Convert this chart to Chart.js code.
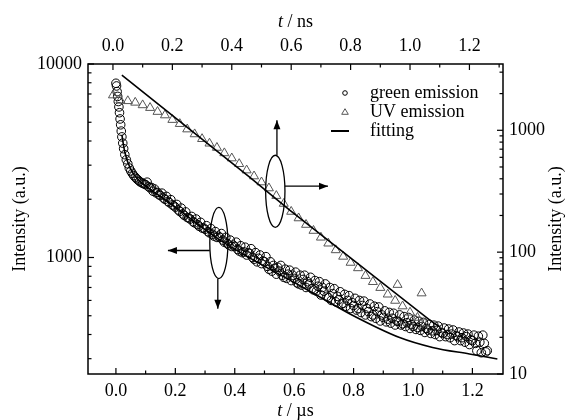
<!DOCTYPE html>
<html><head><meta charset="utf-8">
<script src="https://cdn.jsdelivr.net/npm/chart.js@4.4.0/dist/chart.umd.min.js"></script>
<style>html,body{margin:0;padding:0;background:#fff;overflow:hidden}</style>
</head><body>
<canvas id="c" width="571" height="420"></canvas>
<script>
// ---- data ----
// green emission: time in microseconds (bottom axis), intensity on left axis
const greenTime = [
0,0.002,0.004,0.006,0.008,0.01,0.012,0.014,0.016,0.018,0.02,0.023,0.026,0.03,0.035,0.04,0.045,0.05,0.055,0.06,0.065,0.07,0.075,0.08,0.085,0.09,0.095,
0.1,0.105,0.11,0.115,0.12,0.125,0.13,0.135,0.14,0.145,
0.15,0.155,0.16,0.165,0.17,0.175,0.18,0.185,0.19,0.195,
0.2,0.205,0.21,0.215,0.22,0.225,0.23,0.235,0.24,0.245,
0.25,0.255,0.26,0.265,0.27,0.275,0.28,0.285,0.29,0.295,
0.3,0.305,0.31,0.315,0.32,0.325,0.33,0.335,0.34,0.345,
0.35,0.355,0.36,0.365,0.37,0.375,0.38,0.385,0.39,0.395,
0.4,0.405,0.41,0.415,0.42,0.425,0.43,0.435,0.44,0.445,
0.45,0.455,0.46,0.465,0.47,0.475,0.48,0.485,0.49,0.495,
0.5,0.505,0.51,0.515,0.52,0.525,0.53,0.535,0.54,0.545,
0.55,0.555,0.56,0.565,0.57,0.575,0.58,0.585,0.59,0.595,
0.6,0.605,0.61,0.615,0.62,0.625,0.63,0.635,0.64,0.645,
0.65,0.655,0.66,0.665,0.67,0.675,0.68,0.685,0.69,0.695,
0.7,0.705,0.71,0.715,0.72,0.725,0.73,0.735,0.74,0.745,
0.75,0.755,0.76,0.765,0.77,0.775,0.78,0.785,0.79,0.795,
0.8,0.805,0.81,0.815,0.82,0.825,0.83,0.835,0.84,0.845,
0.85,0.855,0.86,0.865,0.87,0.875,0.88,0.885,0.89,0.895,
0.9,0.905,0.91,0.915,0.92,0.925,0.93,0.935,0.94,0.945,
0.95,0.955,0.96,0.965,0.97,0.975,0.98,0.985,0.99,0.995,
1.0,1.005,1.01,1.015,1.02,1.025,1.03,1.035,1.04,1.045,
1.05,1.055,1.06,1.065,1.07,1.075,1.08,1.085,1.09,1.095,
1.1,1.105,1.11,1.115,1.12,1.125,1.13,1.135,1.14,1.145,
1.15,1.155,1.16,1.165,1.17,1.175,1.18,1.185,1.19,1.195,
1.2,1.205,1.21,1.215,1.22,1.225,1.23,1.235,1.24,1.245,
1.25];
const greenIntensity = [
7950,7700,7200,6800,6400,6000,5600,5200,4850,4500,4200,3900,3650,3400,3200,3050,2900,2800,2720,2650,2600,2550,2510,2470,2440,2420,2400,
2380,2450,2320,2290,2300,2200,2260,2160,2170,2110,
2090,2150,2030,2000,2070,1950,1920,1990,1870,1850,
1820,1880,1760,1730,1800,1680,1650,1720,1610,1600,
1580,1630,1530,1510,1580,1480,1450,1520,1420,1420,
1400,1460,1360,1340,1410,1320,1290,1360,1270,1290,
1270,1330,1230,1200,1270,1180,1160,1230,1140,1160,
1140,1200,1100,1080,1150,1060,1070,1130,1030,1060,
1050,1110,1000,980,1060,950,990,1030,930,960,
950,1010,900,870,950,850,910,880,820,890,
850,910,810,790,870,780,820,860,760,810,
780,840,740,730,810,720,770,810,700,750,
730,790,690,680,760,670,710,750,640,700,
670,730,630,620,700,600,650,690,590,630,
605,665,575,580,645,560,600,635,545,585,
565,615,535,545,600,520,565,595,505,545,
525,575,495,505,560,485,525,555,470,505,
490,530,465,480,520,458,485,515,448,470,
467,505,448,455,495,440,460,490,430,450,
440,475,425,435,468,420,440,462,410,430,
422,452,405,418,447,400,420,442,390,410,
405,432,390,400,427,385,402,422,372,395,
390,412,372,385,407,365,390,402,355,375,
372,397,360,330,392,365,322,397,360,325,
330];
// UV emission: time in nanoseconds (top axis), intensity on right axis
const uvTime = [0,0.025,0.05,0.075,0.1,0.125,0.15,0.175,0.2,0.225,0.25,0.275,0.3,0.325,0.35,0.375,0.4,0.425,0.45,0.475,0.5,0.525,0.55,0.575,0.6,0.625,0.65,0.675,0.7,0.725,0.75,0.775,0.8,0.825,0.85,0.875,0.9,0.925,0.95,0.958,0.975,1.0,1.025,1.039,1.05];
const uvIntensity = [1940,1760,1740,1690,1610,1530,1420,1330,1220,1130,1020,930,850,780,720,650,590,530,470,420,375,335,290,250,215,190,168,150,132,118,104,92,82,74,64,57,51,45,40,54,36,32,29,46,26];
// fitting curves
const greenFitTime = [0.02,0.03,0.05,0.08,0.12,0.2,0.33,0.453,0.62,0.788,0.955,1.066,1.19,1.284];
const greenFitIntensity = [4300,3500,2850,2480,2230,1820,1290,990,715,511,386,343,317,299];
const uvFitTime = [0.03,0.46,0.595,1.072,1.1];
const uvFitIntensity = [2830,412,221,27,24.4];
// tick values
const usMajor = [0,0.2,0.4,0.6,0.8,1.0,1.2];
const usMinor = [0.1,0.3,0.5,0.7,0.9,1.1];
const nsMajor = [0,0.2,0.4,0.6,0.8,1.0,1.2];
const nsMinor = [0.1,0.3,0.5,0.7,0.9,1.1,1.3];
const leftMajor = [1000,10000];
const leftMinor = [300,400,500,600,700,800,900,2000,3000,4000,5000,6000,7000,8000,9000];
const rightMajor = [10,100,1000];
const rightMinor = [20,30,40,50,60,70,80,90,200,300,400,500,600,700,800,900,2000,3000];
// legend labels and marker annotations (data coordinates)
const legendLabels = ['green emission','UV emission','fitting'];
const uvMarker = {x0:0.514,x1:0.579,yTop:624,yBot:160,upX:0.552,upTo:1208,rightY:348,rightTo:0.724};
const greenMarker = {x0:0.316,x1:0.377,yTop:1816,yBot:778,leftY:1087,leftTo:0.175,downX:0.343,downTo:544};

const FONT = '18px "Liberation Serif"';
const fontObj = {family:'Liberation Serif', size:18};

function pts(xs, ys){ return xs.map((x,i)=>({x:x,y:ys[i]})); }

function arrow(ctx,x1,y1,x2,y2){
  ctx.beginPath(); ctx.moveTo(x1,y1); ctx.lineTo(x2,y2); ctx.stroke();
  const a=Math.atan2(y2-y1,x2-x1), L=9, W=3.5;
  ctx.beginPath();
  ctx.moveTo(x2,y2);
  ctx.lineTo(x2-L*Math.cos(a)+W*Math.sin(a), y2-L*Math.sin(a)-W*Math.cos(a));
  ctx.lineTo(x2-L*Math.cos(a)-W*Math.sin(a), y2-L*Math.sin(a)+W*Math.cos(a));
  ctx.closePath(); ctx.fill();
}
function mixed(ctx, parts, cx, cy){
  let total=0; const w=[];
  parts.forEach(p=>{ctx.font=(p[1]?'italic ':'')+FONT; const m=ctx.measureText(p[0]).width; w.push(m); total+=m;});
  let x=cx-total/2;
  ctx.textAlign='left'; ctx.textBaseline='middle';
  parts.forEach((p,i)=>{ctx.font=(p[1]?'italic ':'')+FONT; ctx.fillText(p[0],x,cy); x+=w[i];});
}

const decor = {
  id:'decor',
  afterDatasetsDraw(chart){
    const ctx=chart.ctx, a=chart.chartArea, s=chart.scales;
    ctx.save();
    ctx.strokeStyle='#000'; ctx.fillStyle='#000';
    // frame
    ctx.lineWidth=1.5;
    ctx.strokeRect(a.left,a.top,a.right-a.left,a.bottom-a.top);
    // inward ticks
    ctx.lineWidth=1.2;
    const tk=(scale,vals,len,side)=>{
      vals.forEach(v=>{
        if(v<scale.min||v>scale.max) return;
        const p=scale.getPixelForValue(v);
        ctx.beginPath();
        if(side==='b'){ctx.moveTo(p,a.bottom);ctx.lineTo(p,a.bottom-len);}
        if(side==='t'){ctx.moveTo(p,a.top);ctx.lineTo(p,a.top+len);}
        if(side==='l'){ctx.moveTo(a.left,p);ctx.lineTo(a.left+len,p);}
        if(side==='r'){ctx.moveTo(a.right,p);ctx.lineTo(a.right-len,p);}
        ctx.stroke();
      });
    };
    tk(s.xb,usMajor,6,'b'); tk(s.xb,usMinor,3.5,'b');
    tk(s.xt,nsMajor,6,'t'); tk(s.xt,nsMinor,3.5,'t');
    tk(s.yl,leftMajor,6,'l'); tk(s.yl,leftMinor,3.5,'l');
    tk(s.yr,rightMajor,6,'r'); tk(s.yr,rightMinor,3.5,'r');
    // titles
    const cx=(a.left+a.right)/2, cy=(a.top+a.bottom)/2;
    mixed(ctx,[['t',true],[' / \u00b5s',false]],cx,chart.height-9);
    mixed(ctx,[['t',true],[' / ns',false]],cx,22);
    ctx.save(); ctx.translate(20,cy); ctx.rotate(-Math.PI/2); mixed(ctx,[['Intensity (a.u.)',false]],0,0); ctx.restore();
    ctx.save(); ctx.translate(556,cy); ctx.rotate(-Math.PI/2); mixed(ctx,[['Intensity (a.u.)',false]],0,0); ctx.restore();
    // legend
    const lx=a.right-158, tx=a.right-133, rows=[a.top+29,a.top+48,a.top+67];
    ctx.lineWidth=1;
    ctx.beginPath(); ctx.arc(lx,rows[0],2.3,0,Math.PI*2); ctx.stroke();
    ctx.strokeStyle='#555';
    ctx.beginPath(); ctx.moveTo(lx,rows[1]-3.3); ctx.lineTo(lx+3.3,rows[1]+2.3); ctx.lineTo(lx-3.3,rows[1]+2.3); ctx.closePath(); ctx.stroke();
    ctx.strokeStyle='#000'; ctx.lineWidth=2;
    ctx.beginPath(); ctx.moveTo(lx-14,rows[2]); ctx.lineTo(lx+4,rows[2]); ctx.stroke();
    ctx.font=FONT; ctx.textAlign='left'; ctx.textBaseline='middle';
    legendLabels.forEach((t,i)=>ctx.fillText(t,tx,rows[i]));
    // markers: ellipses with arrows
    ctx.lineWidth=1.3; ctx.strokeStyle='#000';
    const ell=(xs,ys,m)=>{
      const x0=xs.getPixelForValue(m.x0), x1=xs.getPixelForValue(m.x1);
      const y0=ys.getPixelForValue(m.yTop), y1=ys.getPixelForValue(m.yBot);
      ctx.beginPath(); ctx.ellipse((x0+x1)/2,(y0+y1)/2,(x1-x0)/2,(y1-y0)/2,0,0,Math.PI*2); ctx.stroke();
      return {x0,x1,y0,y1};
    };
    const u=ell(s.xt,s.yr,uvMarker);
    arrow(ctx,s.xt.getPixelForValue(uvMarker.upX),u.y0,s.xt.getPixelForValue(uvMarker.upX),s.yr.getPixelForValue(uvMarker.upTo));
    arrow(ctx,u.x1,s.yr.getPixelForValue(uvMarker.rightY),s.xt.getPixelForValue(uvMarker.rightTo),s.yr.getPixelForValue(uvMarker.rightY));
    const g=ell(s.xb,s.yl,greenMarker);
    arrow(ctx,g.x0,s.yl.getPixelForValue(greenMarker.leftY),s.xb.getPixelForValue(greenMarker.leftTo),s.yl.getPixelForValue(greenMarker.leftY));
    arrow(ctx,s.xb.getPixelForValue(greenMarker.downX),g.y1,s.xb.getPixelForValue(greenMarker.downX),s.yl.getPixelForValue(greenMarker.downTo));
    ctx.restore();
  }
};

const tickOpts = (cb,pad)=>({color:'#000',font:fontObj,padding:pad,autoSkip:false,maxRotation:0,callback:cb});
const noGrid = {display:false,drawTicks:false};

new Chart(document.getElementById('c'),{
  type:'scatter',
  data:{datasets:[
    {label:'green fit',data:pts(greenFitTime,greenFitIntensity),xAxisID:'xb',yAxisID:'yl',showLine:true,pointRadius:0,borderColor:'#000',borderWidth:1.6,cubicInterpolationMode:'monotone'},
    {label:'UV fit',data:pts(uvFitTime,uvFitIntensity),xAxisID:'xt',yAxisID:'yr',showLine:true,pointRadius:0,borderColor:'#000',borderWidth:1.6},
    {label:'UV emission',data:pts(uvTime,uvIntensity),xAxisID:'xt',yAxisID:'yr',pointStyle:'triangle',pointRadius:5.2,borderColor:'#555',backgroundColor:'rgba(0,0,0,0)',borderWidth:1},
    {label:'green emission',data:pts(greenTime,greenIntensity),xAxisID:'xb',yAxisID:'yl',pointStyle:'circle',pointRadius:4.3,borderColor:'#000',backgroundColor:'rgba(0,0,0,0)',borderWidth:1}
  ]},
  options:{
    responsive:false,animation:false,devicePixelRatio:1,
    layout:{padding:0},
    plugins:{legend:{display:false},tooltip:{enabled:false}},
    scales:{
      xb:{type:'linear',position:'bottom',min:-0.094,max:1.303,grid:noGrid,border:{display:false},
        afterBuildTicks:sc=>{sc.ticks=usMajor.map(v=>({value:v}));},
        ticks:tickOpts(v=>Number(v).toFixed(1),6),
        afterFit:sc=>{sc.height=46;}},
      xt:{type:'linear',position:'top',min:-0.084,max:1.313,grid:noGrid,border:{display:false},
        afterBuildTicks:sc=>{sc.ticks=nsMajor.map(v=>({value:v}));},
        ticks:tickOpts(v=>Number(v).toFixed(1),7),
        afterFit:sc=>{sc.height=64;}},
      yl:{type:'logarithmic',position:'left',min:250,max:10000,grid:noGrid,border:{display:false},
        afterBuildTicks:sc=>{sc.ticks=leftMajor.map(v=>({value:v}));},
        ticks:tickOpts(v=>String(v),6),
        afterFit:sc=>{sc.width=88;}},
      yr:{type:'logarithmic',position:'right',min:10,max:3500,grid:noGrid,border:{display:false},
        afterBuildTicks:sc=>{sc.ticks=rightMajor.map(v=>({value:v}));},
        ticks:tickOpts(v=>String(v),6),
        afterFit:sc=>{sc.width=68;}}
    }
  },
  plugins:[decor]
});
</script>
</body></html>
